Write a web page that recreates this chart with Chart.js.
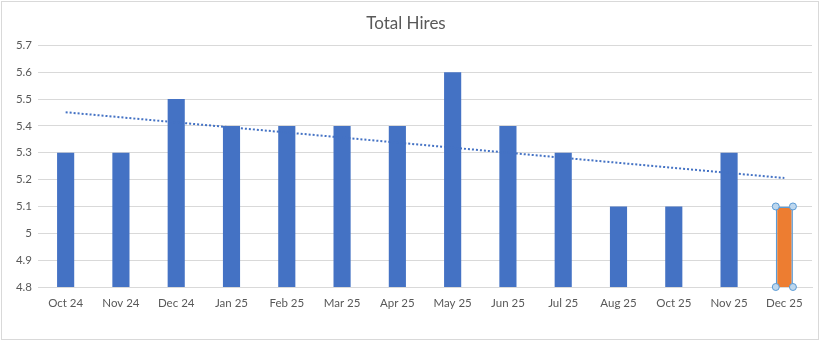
<!DOCTYPE html>
<html>
<head>
<meta charset="utf-8">
<script src="https://cdn.jsdelivr.net/npm/chart.js@4/dist/chart.umd.min.js"></script>
<style>
  html, body { margin: 0; padding: 0; background: #fff; }
  #wrap { width: 820px; height: 341px; position: relative; }
</style>
</head>
<body>
<div id="wrap"><canvas id="c" width="820" height="341"></canvas></div>
<script>
const categories = ["Oct 24","Nov 24","Dec 24","Jan 25","Feb 25","Mar 25","Apr 25","May 25","Jun 25","Jul 25","Aug 25","Oct 25","Nov 25","Dec 25"];
const hires = [5.3, 5.3, 5.5, 5.4, 5.4, 5.4, 5.4, 5.6, 5.4, 5.3, 5.1, 5.1, 5.3, 5.1];
// Linear trendline endpoints (first and last category)
const trendStart = 5.451;
const trendEnd = 5.206;
const trend = categories.map((_, i) => i === 0 ? trendStart : (i === categories.length - 1 ? trendEnd : null));
const highlightIndex = categories.length - 1;

const barColors = hires.map((_, i) => i === highlightIndex ? '#ED7D31' : '#4472C4');
const barBorders = hires.map((_, i) => i === highlightIndex ? '#5B9BD5' : '#4472C4');
const barBorderWidths = hires.map((_, i) => i === highlightIndex ? 1.5 : 0);

const FONT = "Lato, 'Liberation Sans', sans-serif";

const frame = {
  id: 'frame',
  beforeDraw(chart) {
    const ctx = chart.ctx;
    ctx.save();
    ctx.fillStyle = '#fff';
    ctx.fillRect(0, 0, chart.width, chart.height);
    ctx.strokeStyle = '#D9D9D9';
    ctx.lineWidth = 1;
    ctx.strokeRect(1.5, 1.5, chart.width - 3, chart.height - 3);
    ctx.restore();
  }
};

const handles = {
  id: 'handles',
  afterDraw(chart) {
    const meta = chart.getDatasetMeta(1);
    const el = meta.data[highlightIndex];
    if (!el) return;
    const yScale = chart.scales.y;
    const top = yScale.getPixelForValue(hires[highlightIndex]);
    const bottom = yScale.getPixelForValue(yScale.min);
    const l = el.x - el.width / 2, r = el.x + el.width / 2;
    const ctx = chart.ctx;
    ctx.save();
    [[l, top], [r, top], [l, bottom], [r, bottom]].forEach(([hx, hy]) => {
      ctx.beginPath();
      ctx.arc(hx, hy, 3.5, 0, Math.PI * 2);
      ctx.fillStyle = '#BDD7EE';
      ctx.fill();
      ctx.lineWidth = 1;
      ctx.strokeStyle = '#5B9BD5';
      ctx.stroke();
    });
    ctx.restore();
  }
};

new Chart(document.getElementById('c'), {
  type: 'bar',
  data: {
    labels: categories,
    datasets: [
      {
        type: 'line',
        label: 'Linear (Total Hires)',
        data: trend,
        spanGaps: true,
        borderColor: '#4472C4',
        borderWidth: 2,
        borderDash: [2, 2],
        pointRadius: 0,
        fill: false,
        order: 0
      },
      {
        type: 'bar',
        label: 'Total Hires',
        data: hires,
        backgroundColor: barColors,
        borderColor: barBorders,
        borderWidth: barBorderWidths,
        borderSkipped: false,
        categoryPercentage: 1,
        barPercentage: 0.31,
        order: 1
      }
    ]
  },
  options: {
    responsive: false,
    animation: false,
    devicePixelRatio: 1,
    layout: { padding: { left: 0, right: 8, top: 0, bottom: 0 } },
    plugins: {
      legend: { display: false },
      tooltip: { enabled: false },
      title: {
        display: true,
        text: 'Total Hires',
        color: '#595959',
        font: { family: FONT, size: 17, weight: 'normal' },
        padding: { top: 13, bottom: 12 }
      }
    },
    scales: {
      x: {
        grid: { display: false, drawTicks: false },
        border: { display: true, color: '#D9D9D9', width: 1 },
        ticks: { color: '#595959', font: { family: FONT, size: 11.5 }, padding: 9, maxRotation: 0, autoSkip: false },
        afterFit(scale) { scale.height = 54; }
      },
      y: {
        min: 4.8,
        max: 5.7,
        grid: { color: '#D9D9D9', lineWidth: 1, drawTicks: false },
        border: { display: false },
        ticks: {
          stepSize: 0.1,
          color: '#595959',
          font: { family: FONT, size: 11.5 },
          padding: 6,
          callback: v => String(Math.round(v * 10) / 10)
        },
        afterFit(scale) { scale.width = 38; }
      }
    }
  },
  plugins: [frame, handles]
});
</script>
</body>
</html>
